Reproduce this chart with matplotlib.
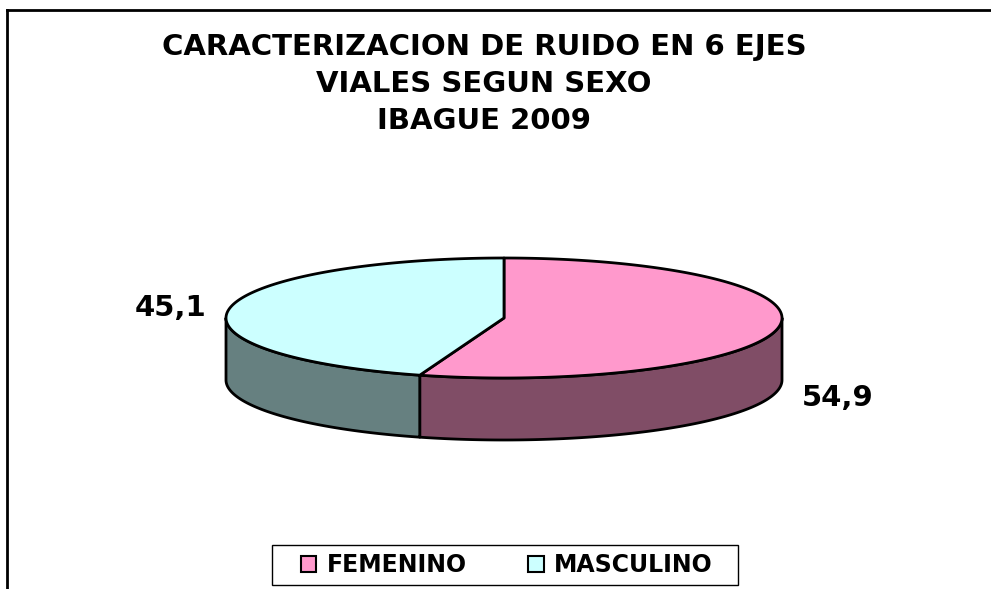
import numpy as np
import matplotlib
matplotlib.use("Agg")
import matplotlib.pyplot as plt
from matplotlib.patches import Polygon, Patch, Rectangle
from matplotlib.lines import Line2D

categories = ["FEMENINO", "MASCULINO"]
values = [54.9, 45.1]
labels = ["54,9", "45,1"]
top_colors = ["#FF99CC", "#CCFFFF"]
side_colors = ["#804D66", "#668080"]
title = "CARACTERIZACION DE RUIDO EN 6 EJES\nVIALES SEGUN SEXO\nIBAGUE 2009"

plt.rcParams["font.family"] = ["DejaVu Sans"]

W, H = 991, 589
fig = plt.figure(figsize=(W / 100, H / 100), dpi=100)
ax = fig.add_axes([0, 0, 1, 1])
ax.set_xlim(0, W)
ax.set_ylim(H, 0)
ax.axis("off")

# geometry of the 3-D pie (pixels)
cx, cy, a, b, depth = 504, 318, 278, 60, 62
lw = 2.0


def pt(t, dz=0.0):
    return cx + a * np.cos(t), cy - b * np.sin(t) + dz


total = sum(values)
fracs = [v / total for v in values]
start = np.pi / 2
spans = []
cur = start
for f in fracs:
    end = cur - 2 * np.pi * f
    spans.append((end, cur))  # clockwise from cur to end
    cur = end

# side faces (front half: angles in [-pi, 0] modulo 2pi)
for (t0, t1), sc in zip(spans, side_colors):
    for off in (0, -2 * np.pi, 2 * np.pi):
        lo = max(t0, -np.pi + off)
        hi = min(t1, 0 + off)
        if hi > lo:
            ts = np.linspace(lo, hi, 200)
            xs, ys = pt(ts)
            xb, yb = pt(ts[::-1], depth)
            poly = np.column_stack([np.concatenate([xs, xb]), np.concatenate([ys, yb])])
            ax.add_patch(Polygon(poly, closed=True, facecolor=sc, edgecolor="black", lw=lw, joinstyle="round"))

# top faces
for (t0, t1), tc in zip(spans, top_colors):
    ts = np.linspace(t1, t0, 300)
    xs, ys = pt(ts)
    poly = np.column_stack([np.concatenate([[cx], xs]), np.concatenate([[cy], ys])])
    ax.add_patch(Polygon(poly, closed=True, facecolor=tc, edgecolor="black", lw=lw, joinstyle="round"))

# data labels
for (t0, t1), lab in zip(spans, labels):
    mid = (t0 + t1) / 2
    x = cx + 1.215 * a * np.cos(mid)
    y = cy - 1.2 * b * np.sin(mid) + (depth * 1.12 if np.sin(mid) < 0 else 1)
    ax.text(x, y, lab, ha="center", va="center", fontsize=21, fontweight="bold", color="black")

# title
ax.text(484, 84, title, ha="center", va="center", fontsize=21, fontweight="bold",
        linespacing=1.4, color="black")

# chart frame (left and top edges visible)
ax.add_line(Line2D([7, 7], [10, H], color="black", lw=2))
ax.add_line(Line2D([7, W], [10, 10], color="black", lw=2))

# legend: frame drawn separately, entries by the legend machinery
ax.add_patch(Rectangle((272, 545), 466, 40, facecolor="white", edgecolor="black", lw=1.0, zorder=4))
handles = [Patch(facecolor=c, edgecolor="black", lw=1.5) for c in top_colors]
leg = ax.legend(handles, categories, loc="center",
                bbox_to_anchor=(507 / W, 1 - 565 / H),
                bbox_transform=fig.transFigure, ncol=2, frameon=False,
                prop={"family": "DejaVu Sans", "weight": "bold", "size": 17},
                handlelength=0.65, handleheight=0.65, handletextpad=0.45, columnspacing=2.6,
                borderpad=0.0, borderaxespad=0)
leg.set_zorder(5)

fig.savefig("out.png", dpi=100, facecolor="white")
